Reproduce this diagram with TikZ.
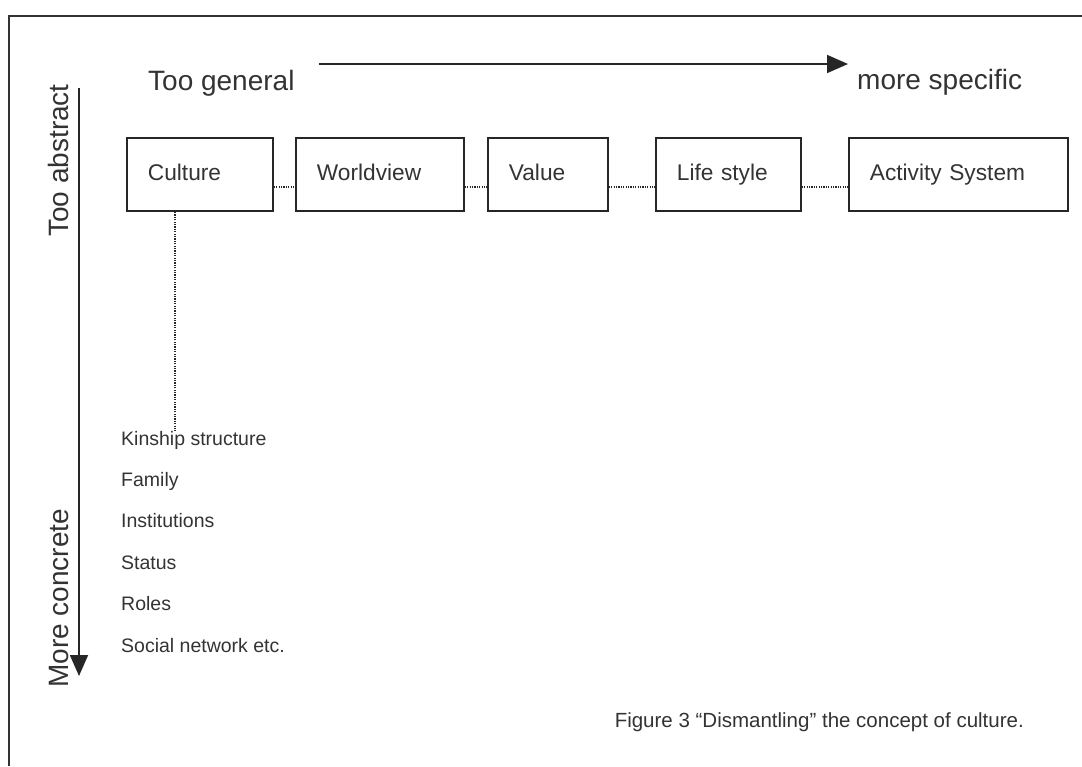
\documentclass[tikz,border=0pt]{standalone}
\usepackage{fontspec}
\setmainfont{Liberation Sans}
\usetikzlibrary{arrows.meta}
\begin{document}
\begin{tikzpicture}[x=1pt,y=-1pt,
  box/.style={draw=black!85, line width=1.8pt, minimum height=73pt, inner xsep=21pt,
    text height=16pt, text depth=5pt, align=left, anchor=west, text=black!80,
    font=\fontsize{22.7}{26}\selectfont},
  link/.style={draw=black!85, line width=1.6pt, dash pattern=on 1.2pt off 1.2pt},
  bigarrow/.style={draw=black!85, line width=1.8pt, -{Triangle[length=21pt,width=18pt]}},
  axislabel/.style={text=black!80, inner sep=0pt, font=\fontsize{28}{32}\selectfont},
  item/.style={text=black!80, inner sep=0pt, anchor=base west, font=\fontsize{19.5}{22}\selectfont},
  frameline/.style={draw=black!80, line width=1.8pt}]
\useasboundingbox (0,0) rectangle (1082,766);
% frame
\coordinate (fr-top) at (1082,16);
\coordinate (fr-corner) at (9,16);
\coordinate (fr-bottom) at (9,766);
\draw[frameline] (fr-top) -- (fr-corner) -- (fr-bottom);
% axis labels
\node[axislabel, anchor=base west] (general) at (148,90) {Too general};
\node[axislabel, anchor=base west] (specific) at (857,89) {more specific};
\node[axislabel, anchor=base west, rotate=90] (abstract) at (68,237) {Too abstract};
\node[axislabel, anchor=base west, rotate=90] (concrete) at (68,688) {More concrete};
% arrows
\coordinate (h-start) at (319,64);
\coordinate (h-end) at (848,64);
\coordinate (v-start) at (79,88);
\coordinate (v-end) at (79,676);
\draw[bigarrow] (h-start) -- (h-end);
\draw[bigarrow] (v-start) -- (v-end);
% boxes
\node[box, text width=104pt] (culture) at (126,174.5) {Culture};
\node[box, text width=126pt] (worldview) at (295,174.5) {Worldview};
\node[box, text width=78pt] (value) at (487,174.5) {Value};
\node[box, text width=103pt] (lifestyle) at (655,174.5) {Life style};
\node[box, text width=177pt] (activity) at (848,174.5) {Activity System};
% links between boxes
\draw[link] ([yshift=-12.5pt]culture.east) -- ([yshift=-12.5pt]worldview.west);
\draw[link] ([yshift=-12.5pt]worldview.east) -- ([yshift=-12.5pt]value.west);
\draw[link] ([yshift=-12.5pt]value.east) -- ([yshift=-12.5pt]lifestyle.west);
\draw[link] ([yshift=-12.5pt]lifestyle.east) -- ([yshift=-12.5pt]activity.west);
% list
\node[item] (kinship) at (121,445) {Kinship structure};
\node[item] (family) at (121,486) {Family};
\node[item] (institutions) at (121,527) {Institutions};
\node[item] (status) at (121,569) {Status};
\node[item] (roles) at (121,610) {Roles};
\node[item] (social) at (121,652) {Social network etc.};
\draw[link] ([xshift=49pt]culture.south west) -- ([xshift=49pt]culture.south west |- kinship.north);
% caption
\node[text=black!80, inner sep=0pt, anchor=base east, font=\fontsize{20.5}{24}\selectfont] (caption) at (1024,727) {Figure 3 “Dismantling” the concept of culture.};
\end{tikzpicture}
\end{document}
